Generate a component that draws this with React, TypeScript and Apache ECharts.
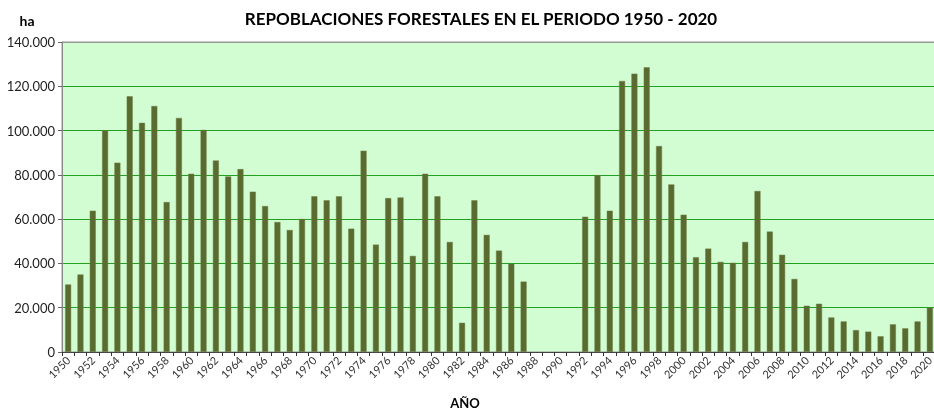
import React, { useEffect, useRef } from "react";
import * as echarts from "echarts";

const years: string[] = [];
for (let y = 1950; y <= 2020; y++) years.push(String(y));

const hectares: (number | null)[] = [
  30500, 35000, 63800, 100000, 85500, 115500, 103500, 111100, 67700, 105700,
  80500, 100300, 86500, 79300, 82600, 72400, 65900, 58700, 55100, 60100,
  70300, 68500, 70300, 55700, 90900, 48500, 69500, 69800, 43400, 80500,
  70300, 49700, 13200, 68500, 52900, 45800, 39800, 31800, null, null,
  null, null, 61100, 79900, 63800, 122400, 125700, 128600, 93000, 75700,
  62000, 42800, 46700, 40700, 40300, 49700, 72700, 54400, 43900, 33000,
  20900, 21800, 15600, 13800, 9900, 9200, 7100, 12500, 10700, 13800,
  20000,
];

const yTicks = [0, 20000, 40000, 60000, 80000, 100000, 120000, 140000];

const fmt = (v: number) =>
  v === 0 ? "0" : String(v).replace(/\B(?=(\d{3})+(?!\d))/g, ".");

export default function App() {
  const ref = useRef<HTMLDivElement>(null);
  useEffect(() => {
    if (!ref.current) return;
    const chart = echarts.init(ref.current, null, { renderer: "svg" });
    const font = "Lato, 'Open Sans', sans-serif";
    chart.setOption({
      animation: false,
      textStyle: { fontFamily: font },
      graphic: [
        {
          type: "text",
          x: 481,
          y: 18,
          style: {
            text: "REPOBLACIONES FORESTALES EN EL PERIODO 1950 - 2020",
            font: `bold 17px ${font}`,
            fill: "#000",
            textAlign: "center",
            textVerticalAlign: "middle",
          },
        },
        {
          type: "text",
          x: 27,
          y: 20,
          style: {
            text: "ha",
            font: `bold 14px ${font}`,
            fill: "#000",
            textAlign: "center",
            textVerticalAlign: "middle",
          },
        },
        {
          type: "text",
          x: 465,
          y: 403,
          style: {
            text: "AÑO",
            font: `bold 13px ${font}`,
            fill: "#000",
            textAlign: "center",
            textVerticalAlign: "middle",
          },
        },
      ],
      grid: {
        left: 62,
        right: -2,
        top: 42,
        bottom: 59,
        containLabel: false,
        outerBoundsMode: "none",
        show: true,
        backgroundColor: "#d2fdd2",
        borderColor: "#999",
        borderWidth: 1,
      },
      xAxis: {
        type: "category",
        data: years,
        axisLine: { lineStyle: { color: "#444", width: 1 } },
        axisTick: { show: true, interval: 0, length: 4, lineStyle: { color: "#333" } },
        axisLabel: {
          interval: 1,
          rotate: 45,
          fontSize: 11,
          color: "#333",
          margin: 6,
          fontFamily: font,
        },
      },
      yAxis: {
        type: "value",
        min: 0,
        max: 140000,
        interval: 20000,
        axisLine: { show: true, lineStyle: { color: "#888" } },
        axisTick: { show: true, length: 4, lineStyle: { color: "#666" } },
        axisLabel: {
          formatter: (v: number) => fmt(v),
          fontSize: 13,
          color: "#222",
          margin: 7,
          fontFamily: font,
        },
        splitLine: {
          show: true,
          lineStyle: {
            color: yTicks.map((t) => (t === 140000 ? "#999" : "#22a022")),
            width: 1,
          },
        },
      },
      series: [
        {
          type: "bar",
          data: hectares,
          barWidth: 6,
          itemStyle: { color: "#5a6b30", borderColor: "#6f7f48", borderWidth: 0.5 },
        },
      ],
    });
    return () => chart.dispose();
  }, []);
  return (
    <div
      ref={ref}
      style={{ position: "fixed", left: 0, top: 0, width: 934, height: 411, overflow: "hidden" }}
    />
  );
}
